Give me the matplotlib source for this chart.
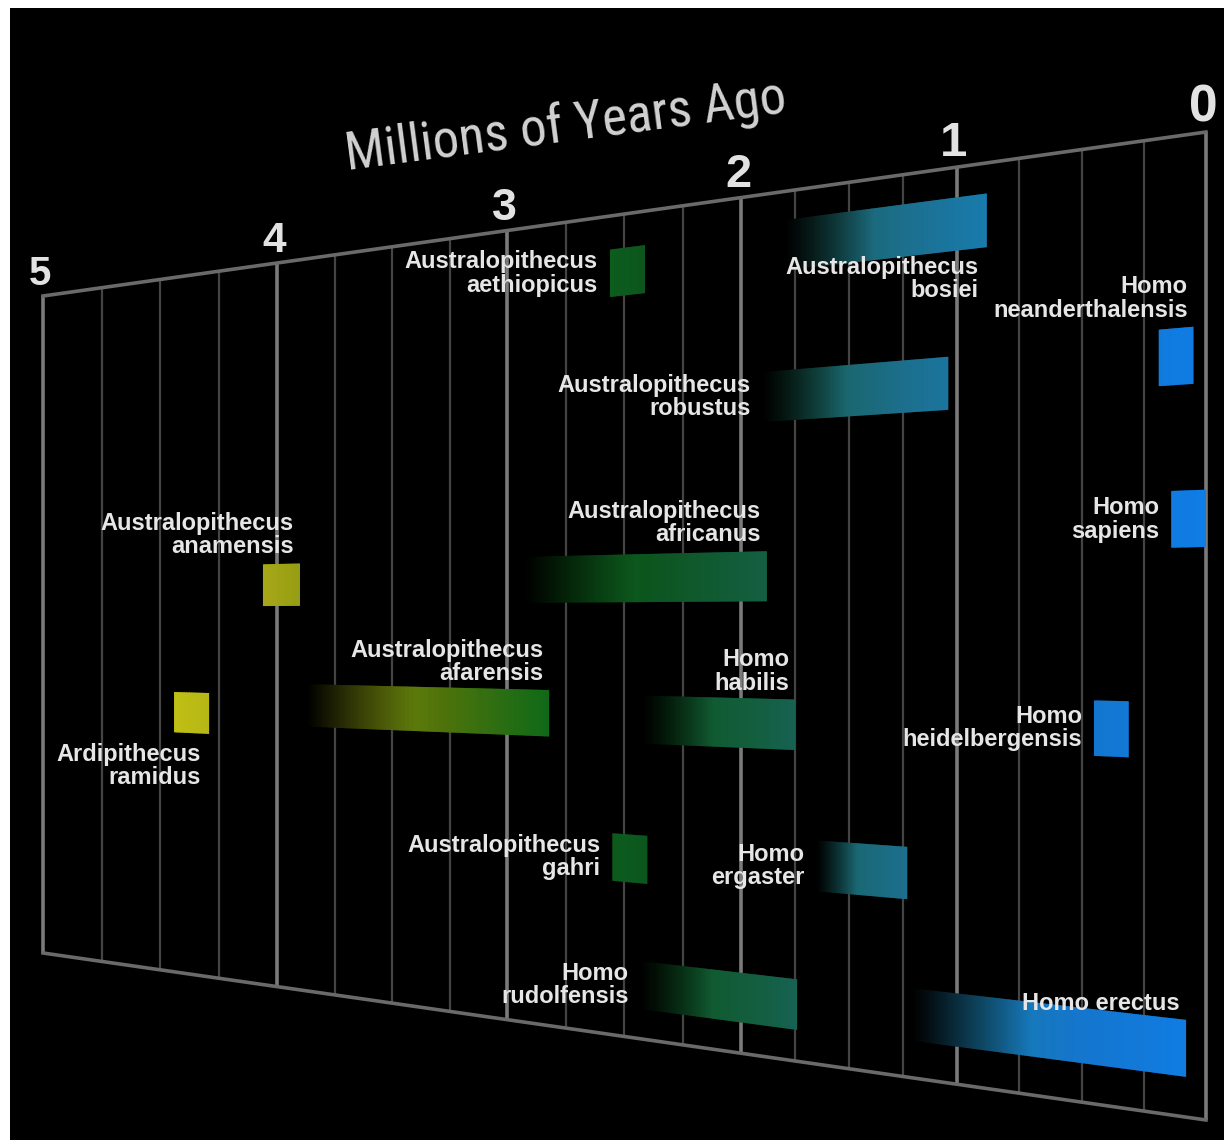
import numpy as np
import matplotlib
matplotlib.use("Agg")
import matplotlib.pyplot as plt
from matplotlib import font_manager as fm
from matplotlib.transforms import Transform, offset_copy
from matplotlib.collections import PolyCollection
from matplotlib.lines import Line2D
from matplotlib.colors import LinearSegmentedColormap

# ---------------- data ----------------
species = [
    "Australopithecus\nbosiei", "Australopithecus\naethiopicus", "Homo\nneanderthalensis",
    "Australopithecus\nrobustus", "Homo\nsapiens", "Australopithecus\nafricanus",
    "Australopithecus\nanamensis", "Australopithecus\nafarensis", "Ardipithecus\nramidus",
    "Homo\nhabilis", "Homo\nheidelbergensis", "Australopithecus\ngahri",
    "Homo\nergaster", "Homo\nrudolfensis", "Homo erectus",
]
start_mya = [1.80, 2.56, 0.19, 1.90, 0.14, 2.92, 4.06, 3.87, 4.44, 2.42, 0.45, 2.55, 1.65, 2.43, 1.21]
end_mya = [0.88, 2.41, 0.05, 1.04, 0.00, 1.88, 3.90, 2.82, 4.29, 1.75, 0.31, 2.40, 1.23, 1.74, 0.08]
lane = [0.062, 0.070, 0.225, 0.235, 0.391, 0.443, 0.445, 0.610, 0.626, 0.614, 0.607, 0.783, 0.774, 0.935, 0.930]
major_ticks = [5, 4, 3, 2, 1, 0]
tick_labels = ["5", "4", "3", "2", "1", "0"]
title = "Millions of Years Ago"

# label placement relative to its bar
label_side = ["below", "left", "above", "left", "left", "above", "above", "above",
              "below", "above", "left", "left", "left", "left", "above"]

# ---------------- perspective mapping (time, lane) -> picture pixels ----------------
TICK_T = np.array([5.0, 4.0, 3.0, 2.0, 1.0, 0.0])
TICK_X = np.array([43.0, 277.0, 507.0, 741.0, 957.0, 1206.0])
TOP_Y = (296.0, 132.0)   # frame top edge at left / right
BOT_Y = (953.0, 1120.0)  # frame bottom edge at left / right


class Perspective(Transform):
    input_dims = 2
    output_dims = 2
    is_separable = False
    has_inverse = False

    def transform_non_affine(self, values):
        values = np.asarray(values, dtype=float).reshape(-1, 2)
        t = values[:, 0]
        v = values[:, 1]
        x = np.interp(-t, -TICK_T, TICK_X)
        f = (x - TICK_X[0]) / (TICK_X[-1] - TICK_X[0])
        top = TOP_Y[0] + f * (TOP_Y[1] - TOP_Y[0])
        bot = BOT_Y[0] + f * (BOT_Y[1] - BOT_Y[0])
        y = top + v * (bot - top)
        return np.column_stack([x, y])


W, H = 1224, 1140
fig = plt.figure(figsize=(W / 100, H / 100), dpi=100, facecolor="white")
ax = fig.add_axes([10 / W, 0, (W - 10) / W, (H - 8) / H])
ax.set_facecolor("black")
ax.set_xlim(10, W)
ax.set_ylim(H, 8)
ax.set_xticks([])
ax.set_yticks([])
for sp in ax.spines.values():
    sp.set_visible(False)

T = Perspective() + ax.transData

# ---------------- grid ----------------
for tt in np.arange(0, 5.001, 0.25):
    is_major = abs(tt - round(tt)) < 1e-9
    ax.add_line(Line2D([tt, tt], [0, 1], transform=T,
                       color="#7a7a7a" if is_major else "#444444",
                       lw=2.6 if is_major else 1.6, zorder=1,
                       solid_capstyle="butt"))
for vv in (0, 1):
    ax.add_line(Line2D([5, 0], [vv, vv], transform=T, color="#6a6a6a",
                       lw=2.6, zorder=1.5, solid_capstyle="projecting"))

# ---------------- tick labels ----------------
for tk, lab in zip(major_ticks, tick_labels):
    size = 29 + (5 - tk) * 1.6
    ax.text(tk, 0, lab, transform=offset_copy(T, fig=fig, x=-3, y=11, units="dots"),
            ha="center", va="baseline", fontsize=size, fontweight="bold",
            color="#e2e2e2", family=["Liberation Sans", "DejaVu Sans"], zorder=4)

# ---------------- title ----------------
title_family, title_size = ["Liberation Sans", "DejaVu Sans"], 35
for fam, sz in [("Liberation Sans Narrow", 37), ("Roboto Condensed", 38)]:
    try:
        fm.findfont(fm.FontProperties(family=fam), fallback_to_default=False)
        title_family, title_size = [fam, "DejaVu Sans"], sz
        break
    except ValueError:
        pass

ax.text(566, 127, title, transform=ax.transData, rotation=7.5, rotation_mode="anchor",
        ha="center", va="center", fontsize=title_size, color="#d2d2d2",
        family=title_family, zorder=4)

# ---------------- bars ----------------
era_cmap = LinearSegmentedColormap.from_list("era", [
    (0.00, (15 / 255, 125 / 255, 230 / 255)),
    (0.10, (20 / 255, 118 / 255, 205 / 255)),
    (0.18, (25 / 255, 122 / 255, 170 / 255)),
    (0.25, (28 / 255, 110 / 255, 140 / 255)),
    (0.32, (25 / 255, 100 / 255, 100 / 255)),
    (0.38, (20 / 255, 95 / 255, 65 / 255)),
    (0.48, (12 / 255, 85 / 255, 30 / 255)),
    (0.56, (12 / 255, 105 / 255, 25 / 255)),
    (0.66, (80 / 255, 115 / 255, 10 / 255)),
    (0.76, (140 / 255, 150 / 255, 15 / 255)),
    (0.82, (170 / 255, 170 / 255, 25 / 255)),
    (0.90, (195 / 255, 195 / 255, 20 / 255)),
    (1.00, (200 / 255, 200 / 255, 20 / 255)),
])

BAR_H = 0.058
for s, e, r in zip(start_mya, end_mya, lane):
    width = s - e
    n = max(10, int(width * 140))
    edges = np.linspace(s, e, n + 1)
    fade = 0.45 * width if width > 0.3 else 0.0
    verts, cols = [], []
    for a, b in zip(edges[:-1], edges[1:]):
        b2 = max(b - 0.004, e)
        verts.append([(a, r - BAR_H / 2), (b2, r - BAR_H / 2),
                      (b2, r + BAR_H / 2), (a, r + BAR_H / 2)])
        mid = 0.5 * (a + b)
        alpha = 1.0 if fade == 0 else min(1.0, (s - mid) / fade) ** 1.1
        c = era_cmap(mid / 5.0)
        cols.append((c[0] * alpha, c[1] * alpha, c[2] * alpha, 1.0))
    pc = PolyCollection(verts, facecolors=cols, edgecolors="none",
                        transform=T, zorder=2)
    ax.add_collection(pc)

# ---------------- species labels ----------------
for name, s, e, r, side in zip(species, start_mya, end_mya, lane, label_side):
    if side == "left":
        anchor, dx, dy, va = (s, r), -12, 0, "center"
    elif side == "above":
        anchor, dx, dy, va = (e, r - BAR_H / 2), -6, 5, "bottom"
    else:
        anchor, dx, dy, va = (e, r + BAR_H / 2), -8, -9, "top"
    ax.text(anchor[0], anchor[1], name,
            transform=offset_copy(T, fig=fig, x=dx, y=dy, units="dots"),
            ha="right", va=va, multialignment="right", linespacing=1.02,
            fontsize=17, fontweight="bold", color="#e6e6e6",
            family=["Liberation Sans", "DejaVu Sans"], zorder=4)

fig.savefig("out.png", dpi=100, facecolor="white")
